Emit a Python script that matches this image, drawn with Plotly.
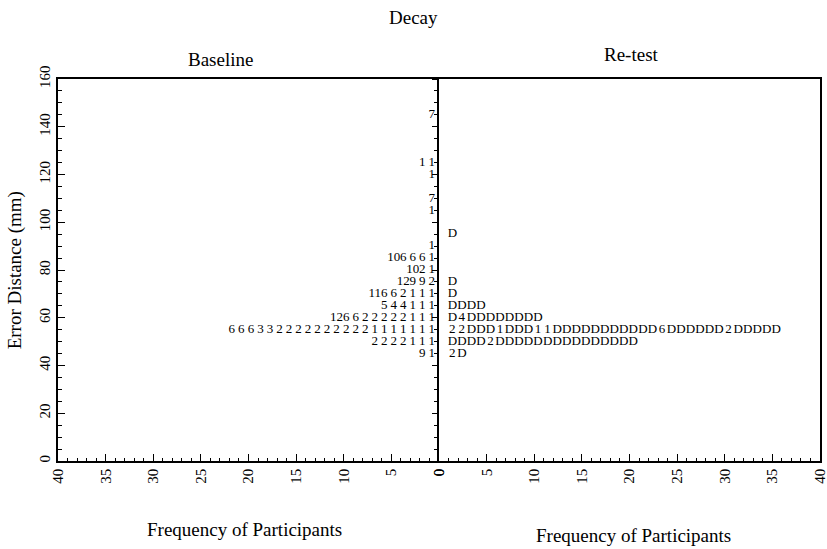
import plotly.graph_objects as go

# Rows of the back-to-back frequency display (error distance in mm)
error_mm = [145, 125, 120, 110, 105, 95, 90, 85, 80, 75, 70, 65, 60, 55, 50, 45]

# Baseline symbols, as read left-to-right (rightmost sits next to the axis)
baseline = [
    "7", "1 1", "1", "7", "1", "", "1",
    "10 6 6 6 1",
    "10 2 1",
    "12 9 9 2",
    "11 6 6 2 1 1 1",
    "5 4 4 1 1 1",
    "12 6 6 2 2 2 2 2 1 1 1",
    "6 6 6 3 3 2 2 2 2 2 2 2 2 2 2 1 1 1 1 1 1 1",
    "2 2 2 2 1 1 1",
    "9 1",
]

# Re-test symbols, read left-to-right starting at the axis
retest = [
    "", "", "", "", "", "D", "", "", "", "D", "D",
    "D D D D",
    "D 4 D D D D D D D D",
    "2 2 D D D 1 D D D 1 1 D D D D D D D D D D D 6 D D D D D D 2 D D D D D",
    "D D D D 2 D D D D D D D D D D D D D D D",
    "2 D",
]

x_ticks = [0, 5, 10, 15, 20, 25, 30, 35, 40]
y_ticks = [0, 20, 40, 60, 80, 100, 120, 140, 160]

FONT = "Liberation Serif"

lx, ly, lt = [], [], []
for y, row in zip(error_mm, baseline):
    toks = row.split()
    n = len(toks)
    for j, t in enumerate(toks):
        lx.append(n - j - 0.25)
        ly.append(y)
        lt.append(t)

rx, ry, rt = [], [], []
for y, row in zip(error_mm, retest):
    toks = row.split()
    for j, t in enumerate(toks):
        rx.append(j + 1.4)
        ry.append(y)
        rt.append(t)

fig = go.Figure()
fig.add_trace(go.Scatter(x=lx, y=ly, text=lt, mode="text", xaxis="x", yaxis="y",
                         textposition="middle center", cliponaxis=False,
                         textfont=dict(family=FONT, size=13, color="black"),
                         showlegend=False, hoverinfo="skip"))
fig.add_trace(go.Scatter(x=rx, y=ry, text=rt, mode="text", xaxis="x2", yaxis="y2",
                         textposition="middle center", cliponaxis=False,
                         textfont=dict(family=FONT, size=13, color="black"),
                         showlegend=False, hoverinfo="skip"))

axis_common = dict(showgrid=False, zeroline=False, showline=True, linecolor="black",
                   linewidth=1.5, tickcolor="black", automargin=False,
                   ticklabeloverflow="allow",
                   tickfont=dict(family=FONT, size=15, color="black"))

fig.update_layout(
    width=827, height=549,
    autosize=False,
    margin=dict(l=58, r=7, t=79, b=88, pad=0),
    paper_bgcolor="white", plot_bgcolor="white",
    font=dict(family=FONT, color="black"),
    xaxis=dict(domain=[0, 0.5], range=[40, 0], anchor="y", tickvals=x_ticks,
               ticks="inside", ticklen=7, tickwidth=1, tickangle=-90, mirror=True,
               minor=dict(dtick=1, ticks="inside", ticklen=3, tickcolor="black", tickwidth=1),
               **axis_common),
    xaxis2=dict(domain=[0.5, 1], range=[0, 40], anchor="y2", tickvals=x_ticks,
                ticks="inside", ticklen=7, tickwidth=1, tickangle=-90, mirror=True,
                minor=dict(dtick=1, ticks="inside", ticklen=3, tickcolor="black", tickwidth=1),
                **axis_common),
    yaxis=dict(range=[0, 160], anchor="x", tickvals=y_ticks, ticks="inside", ticklen=7,
               tickwidth=1, tickangle=-90,
               minor=dict(dtick=5, ticks="inside", ticklen=4, tickcolor="black", tickwidth=1),
               **axis_common),
    yaxis2=dict(range=[0, 160], anchor="x2", tickvals=y_ticks, ticks="outside", ticklen=5,
                tickwidth=1, showticklabels=False, mirror=True,
                minor=dict(dtick=5, ticks="outside", ticklen=3, tickcolor="black", tickwidth=1),
                **axis_common),
    yaxis3=dict(range=[0, 160], anchor="x2", overlaying="y2", side="left", tickvals=y_ticks,
                ticks="inside", ticklen=5, tickwidth=1, showticklabels=False,
                minor=dict(dtick=5, ticks="inside", ticklen=3, tickcolor="black", tickwidth=1),
                **axis_common),
)

ann = dict(xref="paper", yref="paper", showarrow=False, xanchor="center", yanchor="middle",
           font=dict(family=FONT, size=19, color="black"))
fig.add_annotation(text="Decay", x=0.466, y=1.162, **ann)
fig.add_annotation(text="Baseline", x=0.2126, y=1.05, **ann)
fig.add_annotation(text="Re-test", x=0.753, y=1.063, **ann)
fig.add_annotation(text="Frequency of Participants", x=0.245, y=-0.18, **ann)
fig.add_annotation(text="Frequency of Participants", x=0.755, y=-0.194, **ann)
fig.add_annotation(text="Error Distance (mm)", x=-0.056, y=0.5, textangle=-90, **ann)

fig.write_html("out.html")
